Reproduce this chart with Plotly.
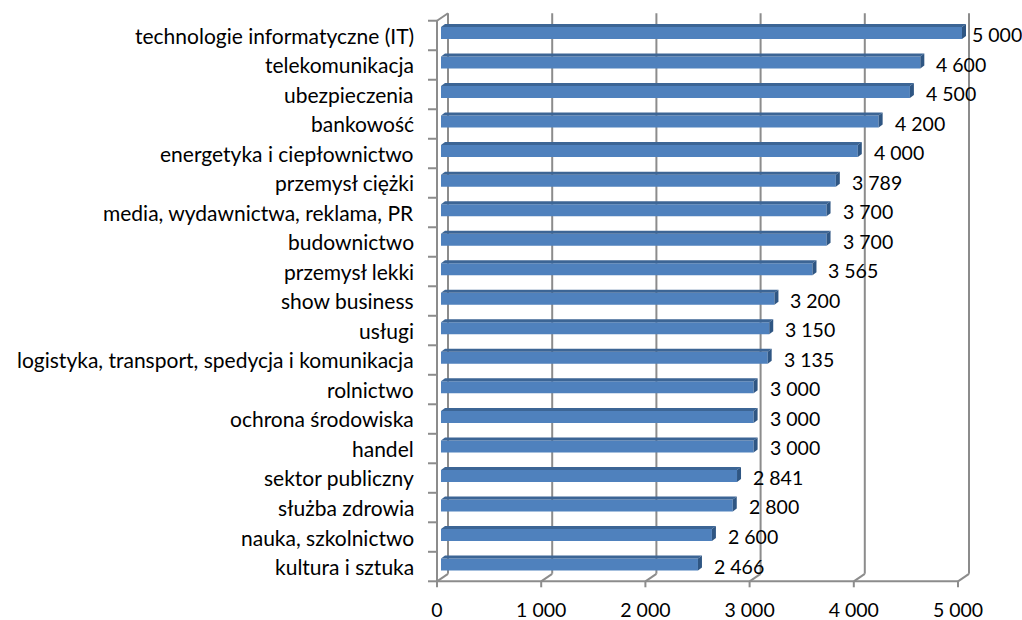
import plotly.graph_objects as go

# ---------------- data ----------------
categories = [
    "technologie informatyczne (IT)", "telekomunikacja", "ubezpieczenia", "bankowość",
    "energetyka i ciepłownictwo", "przemysł ciężki", "media, wydawnictwa, reklama, PR",
    "budownictwo", "przemysł lekki", "show business", "usługi",
    "logistyka, transport, spedycja i komunikacja", "rolnictwo", "ochrona środowiska",
    "handel", "sektor publiczny", "służba zdrowia", "nauka, szkolnictwo", "kultura i sztuka",
]
values = [5000, 4600, 4500, 4200, 4000, 3789, 3700, 3700, 3565, 3200,
          3150, 3135, 3000, 3000, 3000, 2841, 2800, 2600, 2466]
x_ticks = [0, 1000, 2000, 3000, 4000, 5000]
x_tick_labels = ["0", "1 000", "2 000", "3 000", "4 000", "5 000"]

# ---------------- layout geometry (styles) ----------------
W, H = 1022, 620
ML, MR, MT, MB = 400, 20, 5, 28
ZERO_PX = 441.0
PX_PER_UNIT = 521.0 / 5000.0
ROW0_PX = 33.0
ROW_PX = 29.53

FONT = "Lato"
FS_CAT = 21
FS_NUM = 19.5
FACE = "#4F81BD"
TOPC = "#3C6595"
SIDEC = "#2F5683"
GRID = "#8C8C8C"

x_range = [(ML - ZERO_PX) / PX_PER_UNIT, (W - MR - ZERO_PX) / PX_PER_UNIT]
y_range = [(H - MB - ROW0_PX) / ROW_PX, (MT - ROW0_PX) / ROW_PX]


def dx(p):
    return p / PX_PER_UNIT


def dy(p):  # positive = downward on screen (reversed axis)
    return p / ROW_PX


n = len(categories)
ys = list(range(n))
top = -0.5
bot = n - 0.5

# 3D plane offsets in px (relative to the bar face plane)
BX, BYT, BYB = 7, -5, -5.5
FX, FYT, FYB = -4, 2.5, 2

shapes = []


def line(x0, y0, x1, y1, layer="below"):
    shapes.append(dict(type="line", xref="x", yref="y", x0=x0, y0=y0, x1=x1, y1=y1,
                       line=dict(color=GRID, width=2), layer=layer))


# back-wall gridlines, floor slants and bottom ticks
for t in x_ticks:
    line(t + dx(BX), top + dy(BYT), t + dx(BX), bot + dy(BYB))
    line(t + dx(BX), bot + dy(BYB), t + dx(FX), bot + dy(FYB))
    line(t + dx(FX), bot + dy(FYB), t + dx(FX), bot + dy(FYB + 6))
# front bottom axis
line(dx(FX), bot + dy(FYB), x_ticks[-1] + dx(FX), bot + dy(FYB))
# front left axis
line(dx(FX), top + dy(FYT), dx(FX), bot + dy(FYB))
line(dx(FX), top + dy(FYT), dx(BX), top + dy(BYT))
for k in range(n + 1):
    yy = k - 0.5 + dy(FYT + (FYB - FYT) * k / n)
    line(dx(FX), yy, dx(FX - 9), yy)

# 3D bar faces
FACE_H = 12
DEP_X, DEP_Y = 4, 3
for i, v in enumerate(values):
    yt = i - dy(FACE_H / 2)
    yb = i + dy(FACE_H / 2)
    top_path = (f"M 0,{yt} L {v},{yt} L {v + dx(DEP_X)},{yt - dy(DEP_Y)} "
                f"L {dx(DEP_X)},{yt - dy(DEP_Y)} Z")
    side_path = (f"M {v},{yt} L {v},{yb} L {v + dx(DEP_X)},{yb - dy(DEP_Y)} "
                 f"L {v + dx(DEP_X)},{yt - dy(DEP_Y)} Z")
    shapes.append(dict(type="path", xref="x", yref="y", path=top_path,
                       fillcolor=TOPC, line=dict(width=0), layer="above"))
    shapes.append(dict(type="path", xref="x", yref="y", path=side_path,
                       fillcolor=SIDEC, line=dict(width=0), layer="above"))

fig = go.Figure()
fig.add_trace(go.Bar(
    x=values, y=ys, orientation="h", width=dy(FACE_H),
    marker=dict(color=FACE, line=dict(width=0)), hoverinfo="skip",
))

annotations = []
for i, (c, v) in enumerate(zip(categories, values)):
    annotations.append(dict(x=0, y=i, xref="x", yref="y", text=c, showarrow=False,
                            xanchor="right", yanchor="middle", xshift=-25, yshift=-2,
                            font=dict(family=FONT, size=FS_CAT, color="#000000")))
    face_end_px = ZERO_PX + v * PX_PER_UNIT
    shift = min(14, W - 52 - face_end_px)
    label = f"{v:,}".replace(",", " ")
    annotations.append(dict(x=v, y=i, xref="x", yref="y", text=label, showarrow=False,
                            xanchor="left", yanchor="middle", xshift=shift, yshift=-1.5,
                            font=dict(family=FONT, size=FS_NUM, color="#000000")))

fig.update_layout(
    width=W, height=H,
    margin=dict(l=ML, r=MR, t=MT, b=MB, pad=0, autoexpand=False),
    paper_bgcolor="white", plot_bgcolor="white",
    showlegend=False, shapes=shapes, annotations=annotations,
    font=dict(family=FONT, size=FS_NUM, color="#000000"),
    xaxis=dict(range=x_range, tickmode="array", tickvals=x_ticks, ticktext=x_tick_labels,
               showgrid=False, zeroline=False, showline=False, ticks="", automargin=False,
               ticklabelshift=-4, ticklabelstandoff=4,
               tickfont=dict(family=FONT, size=FS_NUM, color="#000000"), fixedrange=True),
    yaxis=dict(range=y_range, showgrid=False, zeroline=False, showline=False, automargin=False,
               showticklabels=False, ticks="", fixedrange=True),
)

fig.write_html("out.html", config={"displayModeBar": False},
               post_script="document.body.style.margin='0';document.body.style.overflow='hidden';")
